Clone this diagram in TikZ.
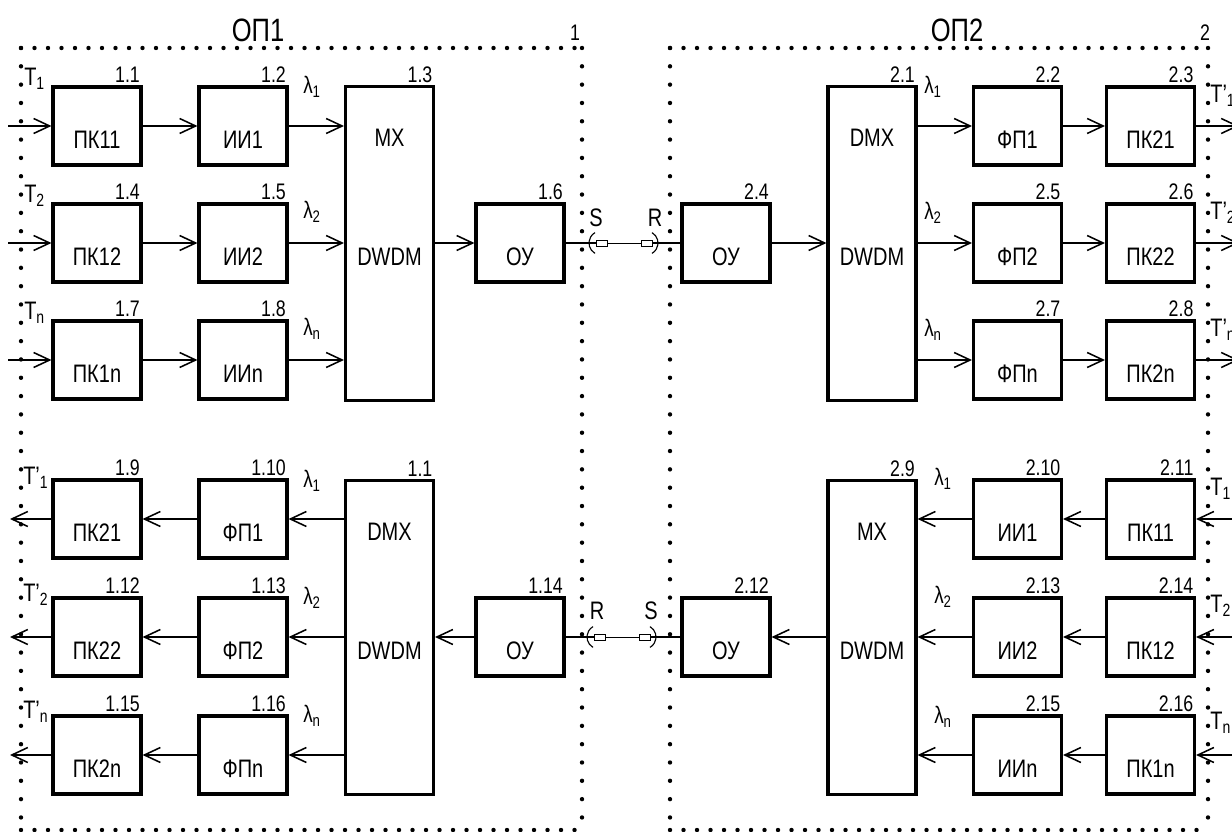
\documentclass[tikz,border=0pt]{standalone}
\usepackage{fontspec}
\setmainfont{Liberation Sans}[FakeStretch=0.79]
\usetikzlibrary{arrows.meta}

\begin{document}
\begin{tikzpicture}[x=0.25mm,y=-0.25mm,
box/.style={draw,line width=2.2pt,minimum width=22mm,minimum height=19.5mm,inner sep=0pt,font=\fontsize{18}{21}\selectfont,text height=12mm,text depth=0.75mm},
tall/.style={draw,line width=2.2pt,minimum width=22mm,minimum height=78.5mm,inner sep=0pt},
mid/.style={anchor=center,inner sep=0pt,font=\fontsize{18}{21}\selectfont},
num/.style={anchor=south east,inner sep=0.6mm,font=\fontsize{16}{19}\selectfont},
sig/.style={anchor=west,inner sep=0pt,font=\fontsize{18}{21}\selectfont},
wl/.style={inner sep=0pt,font=\fontsize{17}{20}\selectfont},
arr/.style={-{Straight Barb[length=4mm,width=3.75mm]},line width=1.1pt},
ln/.style={line width=1.1pt},
hdots/.style={line width=1.1mm,line cap=round,dash pattern=on 0pt off 3.375mm},
vdots/.style={line width=1.1mm,line cap=round,dash pattern=on 0pt off 4.58mm}]
\useasboundingbox (0,0) rectangle (1232,832);
\clip (0,0) rectangle (1232,832);

% station frames
\draw[hdots] (21,48)--(582,48) (21,830)--(582,830);
\draw[vdots] (21,48)--(21,830) (582,48)--(582,830);
\draw[hdots] (670,48)--(1208,48) (670,830)--(1208,830);
\draw[vdots] (670,48)--(670,830) (1208,48)--(1208,830);
\node[font=\fontsize{23}{26}\selectfont,inner sep=0pt] (op1) at (258,30) {ОП1};
\node[font=\fontsize{16}{19}\selectfont,inner sep=0pt] (st1) at (575,33) {1};
\node[font=\fontsize{23}{26}\selectfont,inner sep=0pt] (op2) at (957,30) {ОП2};
\node[font=\fontsize{16}{19}\selectfont,inner sep=0pt] (st2) at (1205,33) {2};

% station 1, transmit
\node[box,label={[num]north east:1.1}] (a1) at (97,126) {ПК11};
\node[box,label={[num]north east:1.2}] (a2) at (243,126) {ИИ1};
\node[tall,label={[num]north east:1.3},label={[mid,yshift=-13.2mm]north:MX},label={[mid,yshift=-3.2mm]center:DWDM}] (a3) at (389.5,243.5) {};
\node[box,label={[num]north east:1.4}] (a4) at (97,243) {ПК12};
\node[box,label={[num]north east:1.5}] (a5) at (243,243) {ИИ2};
\node[box,label={[num]north east:1.6}] (a6) at (520,243) {ОУ};
\node[box,label={[num]north east:1.7}] (a7) at (97,360) {ПК1n};
\node[box,label={[num]north east:1.8}] (a8) at (243,360) {ИИn};
% station 1, receive
\node[box,label={[num]north east:1.9}] (a9) at (97,519) {ПК21};
\node[box,label={[num]north east:1.10}] (a10) at (243,519) {ФП1};
\node[tall,label={[num]north east:1.1},label={[mid,yshift=-13.2mm]north:DMX},label={[mid,yshift=-3.4mm]center:DWDM}] (a11) at (389.5,637.5) {};
\node[box,label={[num]north east:1.12}] (a12) at (97,637) {ПК22};
\node[box,label={[num]north east:1.13}] (a13) at (243,637) {ФП2};
\node[box,label={[num]north east:1.14}] (a14) at (520,637) {ОУ};
\node[box,label={[num]north east:1.15}] (a15) at (97,755) {ПК2n};
\node[box,label={[num]north east:1.16}] (a16) at (243,755) {ФПn};

% station 2, receive
\node[tall,label={[num]north east:2.1},label={[mid,yshift=-13.2mm]north:DMX},label={[mid,yshift=-3.2mm]center:DWDM}] (b1) at (872,243.5) {};
\node[box,label={[num]north east:2.2}] (b2) at (1017.5,126) {ФП1};
\node[box,label={[num]north east:2.3}] (b3) at (1150.5,126) {ПК21};
\node[box,label={[num]north east:2.4}] (b4) at (726,243) {ОУ};
\node[box,label={[num]north east:2.5}] (b5) at (1017.5,243) {ФП2};
\node[box,label={[num]north east:2.6}] (b6) at (1150.5,243) {ПК22};
\node[box,label={[num]north east:2.7}] (b7) at (1017.5,360) {ФПn};
\node[box,label={[num]north east:2.8}] (b8) at (1150.5,360) {ПК2n};
% station 2, transmit
\node[tall,label={[num]north east:2.9},label={[mid,yshift=-13.2mm]north:MX},label={[mid,yshift=-3.4mm]center:DWDM}] (b9) at (872,637.5) {};
\node[box,label={[num]north east:2.10}] (b10) at (1017.5,519) {ИИ1};
\node[box,label={[num]north east:2.11}] (b11) at (1150.5,519) {ПК11};
\node[box,label={[num]north east:2.12}] (b12) at (726,637) {ОУ};
\node[box,label={[num]north east:2.13}] (b13) at (1017.5,637) {ИИ2};
\node[box,label={[num]north east:2.14}] (b14) at (1150.5,637) {ПК12};
\node[box,label={[num]north east:2.15}] (b15) at (1017.5,755) {ИИn};
\node[box,label={[num]north east:2.16}] (b16) at (1150.5,755) {ПК1n};

% channel and wavelength labels
\node[sig] (ta1) at (24,79) {T\textsubscript{1}};
\node[sig] (ta2) at (24,196) {T\textsubscript{2}};
\node[sig] (tan) at (24,313) {T\textsubscript{n}};
\node[sig] (ra1) at (23,478) {T’\textsubscript{1}};
\node[sig] (ra2) at (23,595) {T’\textsubscript{2}};
\node[sig] (ran) at (23,712) {T’\textsubscript{n}};
\node[sig] (rb1) at (1210,96) {T’\textsubscript{1}};
\node[sig] (rb2) at (1210,213) {T’\textsubscript{2}};
\node[sig] (rbn) at (1210,330) {T’\textsubscript{n}};
\node[sig] (tb1) at (1210,489) {T\textsubscript{1}};
\node[sig] (tb2) at (1210,606) {T\textsubscript{2}};
\node[sig] (tbn) at (1210,723) {T\textsubscript{n}};
\node[wl] (la1) at (312,87) {λ\textsubscript{1}};
\node[wl] (la2) at (312,212) {λ\textsubscript{2}};
\node[wl] (lan) at (312,329) {λ\textsubscript{n}};
\node[wl] (la9) at (312,481) {λ\textsubscript{1}};
\node[wl] (la12) at (312,598) {λ\textsubscript{2}};
\node[wl] (la15) at (312,716) {λ\textsubscript{n}};
\node[wl] (lb1) at (933,87) {λ\textsubscript{1}};
\node[wl] (lb2) at (933,213) {λ\textsubscript{2}};
\node[wl] (lbn) at (933,330) {λ\textsubscript{n}};
\node[wl] (lb9) at (943,479) {λ\textsubscript{1}};
\node[wl] (lb12) at (943,597) {λ\textsubscript{2}};
\node[wl] (lb15) at (943,717) {λ\textsubscript{n}};

% free ends at the picture edges
\coordinate (ia1) at (8,126); \coordinate (ia4) at (8,243); \coordinate (ia7) at (8,360);
\coordinate (oa9) at (10,519); \coordinate (oa12) at (10,637); \coordinate (oa15) at (10,755);
\coordinate (ob3) at (1239,126); \coordinate (ob6) at (1239,243); \coordinate (ob8) at (1239,360);
\coordinate (ib11) at (1245,519); \coordinate (ib14) at (1245,637); \coordinate (ib16) at (1245,755);

% station 1 links
\draw[arr] (ia1)--(a1); \draw[arr] (a1)--(a2); \draw[arr] (a2)--(a2-|a3.west);
\draw[arr] (ia4)--(a4); \draw[arr] (a4)--(a5); \draw[arr] (a5)--(a5-|a3.west);
\draw[arr] (ia7)--(a7); \draw[arr] (a7)--(a8); \draw[arr] (a8)--(a8-|a3.west);
\draw[arr] (a6-|a3.east)--(a6);
\draw[arr] (a14)--(a14-|a11.east);
\draw[arr] (a10-|a11.west)--(a10); \draw[arr] (a10)--(a9); \draw[arr] (a9)--(oa9);
\draw[arr] (a13-|a11.west)--(a13); \draw[arr] (a13)--(a12); \draw[arr] (a12)--(oa12);
\draw[arr] (a16-|a11.west)--(a16); \draw[arr] (a16)--(a15); \draw[arr] (a15)--(oa15);

% station 2 links
\draw[arr] (b4)--(b4-|b1.west);
\draw[arr] (b2-|b1.east)--(b2); \draw[arr] (b2)--(b3); \draw[arr] (b3)--(ob3);
\draw[arr] (b5-|b1.east)--(b5); \draw[arr] (b5)--(b6); \draw[arr] (b6)--(ob6);
\draw[arr] (b7-|b1.east)--(b7); \draw[arr] (b7)--(b8); \draw[arr] (b8)--(ob8);
\draw[arr] (ib11)--(b11); \draw[arr] (b11)--(b10); \draw[arr] (b10)--(b10-|b9.east);
\draw[arr] (ib14)--(b14); \draw[arr] (b14)--(b13); \draw[arr] (b13)--(b13-|b9.east);
\draw[arr] (ib16)--(b16); \draw[arr] (b16)--(b15); \draw[arr] (b15)--(b15-|b9.east);
\draw[arr] (b12-|b9.west)--(b12);

% optical connectors
\coordinate (c1) at (596,243); \coordinate (c2) at (652,243);
\draw[ln] (a6)--(c1); \draw[ln] (c2)--(b4);
\draw[line width=0.7pt] (596,240) rectangle (607,246) (641,240) rectangle (652,246);
\draw[line width=0.7pt] (607,243)--(641,243);
\draw[line width=0.8pt] (601,243) ++(120:12) arc[start angle=120,end angle=240,radius=12];
\draw[line width=0.8pt] (646,243) ++(-60:12) arc[start angle=-60,end angle=60,radius=12];
\node[mid] (s1) at (596,218) {S};
\node[mid] (r1) at (655,218) {R};
\coordinate (c3) at (594,637); \coordinate (c4) at (650,637);
\draw[ln] (a14)--(c3); \draw[ln] (c4)--(b12);
\draw[line width=0.7pt] (594,634) rectangle (605,640) (639,634) rectangle (650,640);
\draw[line width=0.7pt] (605,637)--(639,637);
\draw[line width=0.8pt] (599,637) ++(120:12) arc[start angle=120,end angle=240,radius=12];
\draw[line width=0.8pt] (644,637) ++(-60:12) arc[start angle=-60,end angle=60,radius=12];
\node[mid] (r2) at (597,611) {R};
\node[mid] (s2) at (651,611) {S};
\end{tikzpicture}
\end{document}
